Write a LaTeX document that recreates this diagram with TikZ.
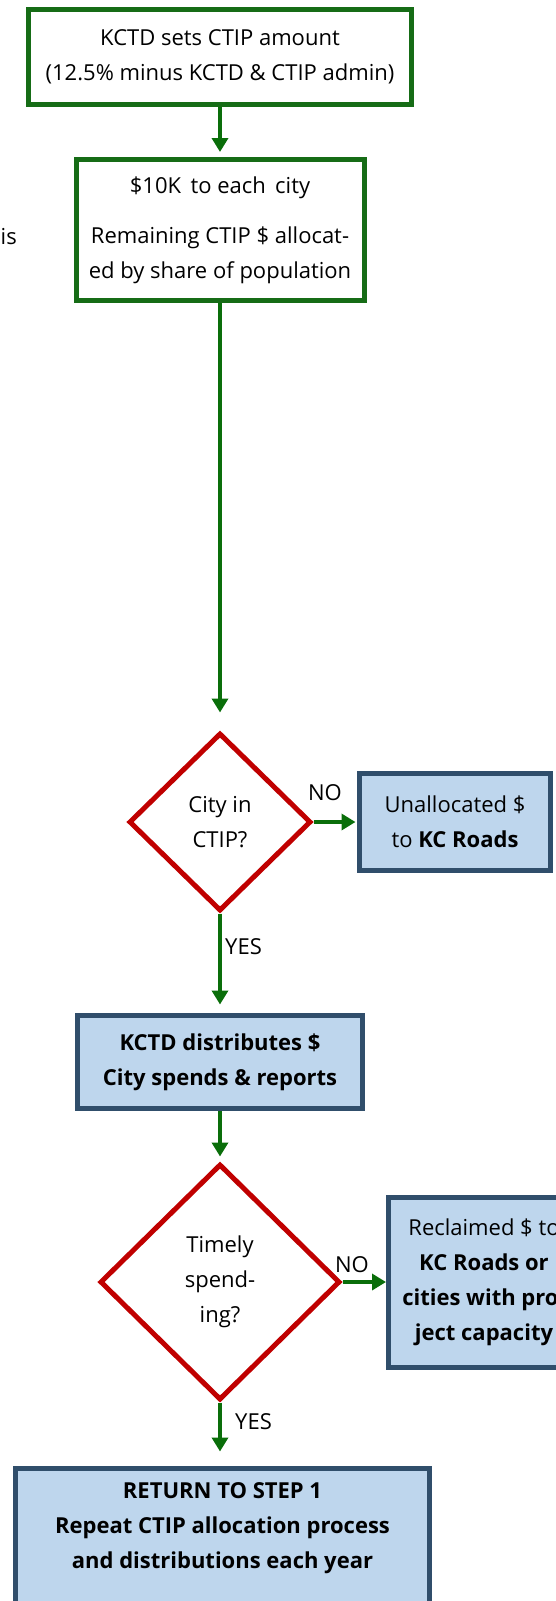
\documentclass[tikz,border=0pt]{standalone}
\usepackage{fontspec}
\setmainfont{Open Sans}
\usetikzlibrary{shapes.geometric,arrows.meta}
\definecolor{gbox}{RGB}{22,108,22}
\definecolor{garrow}{RGB}{10,110,10}
\definecolor{rdia}{RGB}{192,0,0}
\definecolor{bfill}{RGB}{190,214,237}
\definecolor{bline}{RGB}{48,78,107}
\begin{document}
\begin{tikzpicture}[x=1pt,y=-1pt,
  txt/.style={font=\fontsize{22}{35}\selectfont, align=center, inner sep=0pt, text=black},
  greenbox/.style={txt, draw=gbox, line width=5pt, fill=white},
  bluebox/.style={txt, draw=bline, line width=5pt, fill=bfill},
  decision/.style={txt, diamond, draw=rdia, line width=5pt, fill=white, aspect=1},
  flow/.style={draw=garrow, line width=4.5pt, -{Triangle[length=14pt,width=16pt]}},
  lbl/.style={txt}]
\useasboundingbox (0,0) rectangle (556,1601);
\clip (0,0) rectangle (556,1601);

\node[greenbox, minimum width=383pt, minimum height=95pt] (b1) at (220,57)
  {KCTD sets CTIP amount\\(12.5\% minus KCTD \& CTIP admin)};
\node[greenbox, minimum width=288pt, minimum height=141pt] (b2) at (220,230)
  {\$10K\, to each\, city\\[15pt]Remaining CTIP \$ allocat-\\ed by share of population};
\node[txt, anchor=east] (is) at (17,237) {is};

\node[decision, minimum width=182pt, minimum height=178pt] (d1) at (220,822)
  {City in\\CTIP?};
\node[bluebox, minimum width=191pt, minimum height=97pt] (u) at (455,822)
  {Unallocated \$\\to \textbf{KC Roads}};

\node[bluebox, minimum width=285pt, minimum height=93pt] (b3) at (220,1062)
  {\textbf{KCTD distributes \$}\\\textbf{City spends \& reports}};

\node[decision, minimum width=240pt, minimum height=236pt] (d2) at (220,1282)
  {Timely\\spend-\\ing?};
\node[bluebox, minimum width=191pt, minimum height=170pt] (r) at (484,1282)
  {Reclaimed \$ to\\\textbf{KC Roads or}\\\textbf{cities with pro-}\\\textbf{ject capacity}};

\node[bluebox, anchor=north, minimum width=414pt, minimum height=160pt] (b4) at (222.5,1465.5)
  {\textbf{RETURN TO STEP 1}\\\textbf{Repeat CTIP allocation process}\\\textbf{and distributions each year}\\\strut};

\draw[flow, shorten >=5pt] (b1.south) -- (b2.north);
\draw[flow, shorten >=18pt] (b2.south) -- (d1.north);
\draw[flow, shorten >=1.5pt] (d1.east) -- (u.west);
\draw[flow, shorten >=8.5pt] (d1.south) -- (b3.north);
\draw[flow, shorten >=5pt] (b3.south) -- (d2.north);
\draw[flow, shorten >=0pt] (d2.east) -- (r.west);
\draw[flow, shorten >=14pt] (d2.south) -- (d2.south |- b4.north);

\node[lbl] (no1) at (325,793) {NO};
\node[lbl, anchor=west] (yes1) at (225,947) {YES};
\node[lbl] (no2) at (352,1265) {NO};
\node[lbl, anchor=west] (yes2) at (235,1422) {YES};
\end{tikzpicture}
\end{document}
